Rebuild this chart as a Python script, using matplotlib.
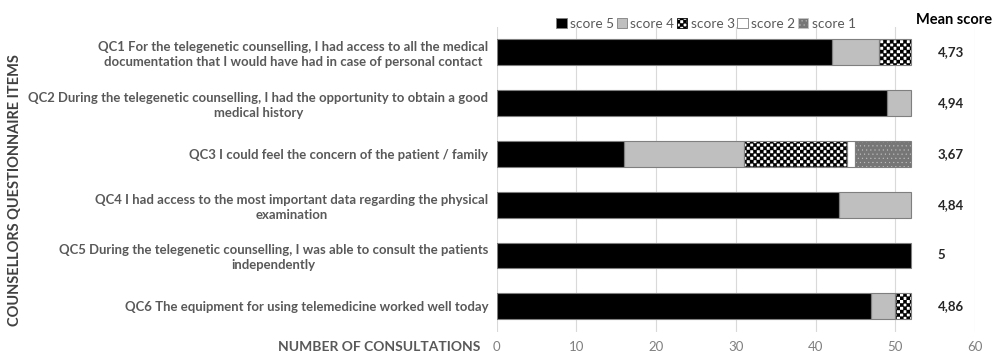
import warnings
import numpy as np
import matplotlib
matplotlib.use("Agg")
import matplotlib.pyplot as plt
import matplotlib.hatch as mhatch
from matplotlib.path import Path
from matplotlib.patches import Patch

warnings.filterwarnings("ignore")

items = [
    "QC1 For the telegenetic counselling, I had access to all the medical\ndocumentation that I would have had in case of personal contact",
    "QC2 During the telegenetic counselling, I had the opportunity to obtain a good\nmedical history",
    "QC3 I could feel the concern of the patient / family",
    "QC4 I had access to the most important data regarding the physical\nexamination",
    "QC5 During the telegenetic counselling, I was able to consult the patients\nindependently",
    "QC6 The equipment for using telemedicine worked well today",
]
score5 = [42, 49, 16, 43, 52, 47]
score4 = [6, 3, 15, 9, 0, 3]
score3 = [4, 0, 13, 0, 0, 2]
score2 = [0, 0, 1, 0, 0, 0]
score1 = [0, 0, 7, 0, 0, 0]
mean_scores = ["4,73", "4,94", "3,67", "4,84", "5", "4,86"]
x_ticks = [0, 10, 20, 30, 40, 50, 60]


# checkerboard hatch, 'c' in the hatch string
class CheckerHatch(mhatch.HatchPatternBase):
    def __init__(self, hatch, density):
        self.n = int(hatch.count('c') * density)
        if self.n % 2:
            self.n += 1
        self.num_vertices = (self.n * self.n // 2) * 5

    def set_vertices_and_codes(self, vertices, codes):
        s = 1.0 / self.n
        sq = np.array([[0, 0], [s, 0], [s, s], [0, s], [0, 0]])
        cells = [(i, j) for i in range(self.n) for j in range(self.n) if (i + j) % 2 == 0]
        vertices[:] = np.concatenate([sq + [i * s, j * s] for i, j in cells])
        one = [Path.MOVETO, Path.LINETO, Path.LINETO, Path.LINETO, Path.CLOSEPOLY]
        codes[:] = np.array(one * len(cells), dtype=codes.dtype)


mhatch._hatch_types.append(CheckerHatch)

plt.rcParams['font.family'] = ['Lato', 'DejaVu Sans']
plt.rcParams['hatch.linewidth'] = 0.3

fig = plt.figure(figsize=(10, 3.59), dpi=100)
ax = fig.add_axes([0.4967, 0.076, 0.4783, 0.8496])

series = [
    ("score 5", score5, "black", None, "black"),
    ("score 4", score4, "#bfbfbf", None, "#bfbfbf"),
    ("score 3", score3, "white", "ccccc", "black"),
    ("score 2", score2, "white", None, "white"),
    ("score 1", score1, "#767676", "....", "#c4c4c4"),
]

y = np.arange(len(items))
left = np.zeros(len(items))
handles = []
for name, vals, face, hatch, hcol in series:
    vals = np.array(vals, dtype=float)
    m = vals > 0
    ax.barh(y[m], vals[m], left=left[m], height=0.51, color=face, hatch=hatch,
            edgecolor=hcol, linewidth=0, zorder=2)
    ax.barh(y[m], vals[m], left=left[m], height=0.51, fill=False,
            edgecolor="#7f7f7f", linewidth=0.8, zorder=3)
    left += vals
    handles.append(Patch(facecolor=face, hatch=hatch, edgecolor=hcol if hatch else "#7f7f7f",
                         linewidth=0.6, label=name))

for i, v in enumerate(mean_scores):
    ax.text(55.3, i, v, ha="left", va="center", fontsize=9.5, fontweight="bold",
            color="#262626")

ax.set_xlim(0, 60)
ax.set_ylim(5.5, -0.5)
ax.set_xticks(x_ticks)
ax.set_yticks(y, items)
ax.tick_params(axis="y", length=0, pad=6, labelsize=9.42, labelcolor="#595959")
for t in ax.get_yticklabels():
    t.set_multialignment("center")
    t.set_fontweight("bold")
    t.set_linespacing(1.3)
ax.tick_params(axis="x", length=0, pad=6.5, labelsize=9.5, labelcolor="#808080")
ax.grid(axis="x", color="#d9d9d9", linewidth=0.8, zorder=0)
ax.set_axisbelow(True)
for s in ax.spines.values():
    s.set_visible(False)

fig.legend(handles=handles, loc="center", bbox_to_anchor=(0.706, 1 - 24 / 359), ncol=5,
           frameon=False, fontsize=9.8, labelcolor="#595959", handlelength=0.75,
           handleheight=0.75, handletextpad=0.25, columnspacing=0.2, borderpad=0)
fig.text(0.954, 1 - 20 / 359, "Mean score", ha="center", va="center", fontsize=10.5,
         fontweight="bold", color="black")
fig.text(0.015, 1 - 190 / 359, "COUNSELLORS QUESTIONNAIRE ITEMS", rotation=90, ha="center",
         va="center", fontsize=10.5, fontweight="bold", color="#404040")
fig.text(0.48, 1 - 347 / 359, "NUMBER OF CONSULTATIONS", ha="right", va="center",
         fontsize=10, fontweight="bold", color="#595959")

fig.savefig("out.png", dpi=100)
